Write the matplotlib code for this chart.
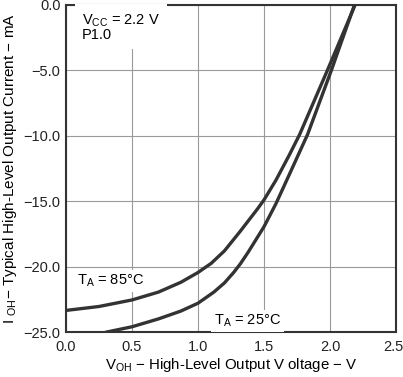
import matplotlib
matplotlib.use("Agg")
import matplotlib.pyplot as plt
import matplotlib.transforms as mtransforms

plt.rcParams['font.family'] = ['Liberation Sans', 'DejaVu Sans']
plt.rcParams['mathtext.fontset'] = 'custom'
plt.rcParams['mathtext.rm'] = 'Liberation Sans'
plt.rcParams['mathtext.it'] = 'Liberation Sans'

# T_A = 85 C curve
v_85 = [0.0, 0.25, 0.5, 0.7, 0.87, 1.0, 1.1, 1.2, 1.32, 1.45, 1.5, 1.59, 1.69, 1.77, 1.98, 2.19]
i_85 = [-23.35, -23.05, -22.55, -21.95, -21.2, -20.45, -19.75, -18.8, -17.3, -15.6, -14.9, -13.4, -11.5, -9.9, -5.0, 0.0]

# T_A = 25 C curve
v_25 = [0.31, 0.5, 0.7, 0.87, 1.0, 1.12, 1.2, 1.27, 1.32, 1.38, 1.5, 1.59, 1.69, 1.83, 2.01, 2.185]
i_25 = [-25.0, -24.6, -24.0, -23.4, -22.8, -21.95, -21.25, -20.45, -19.8, -18.9, -16.95, -15.2, -13.0, -9.9, -5.0, 0.0]

x_ticks = [0.0, 0.5, 1.0, 1.5, 2.0, 2.5]
y_ticks = [0.0, -5.0, -10.0, -15.0, -20.0, -25.0]

fig = plt.figure(figsize=(4.03, 3.77), dpi=100)
ax = fig.add_axes([66 / 403, 1 - 332 / 377, 330 / 403, 327 / 377])

ax.plot(v_85, i_85, color='#333333', lw=2.4, solid_joinstyle='round')
ax.plot(v_25, i_25, color='#333333', lw=2.4, solid_joinstyle='round')

ax.set_xlim(0, 2.5)
ax.set_ylim(-25, 0)
ax.set_xticks(x_ticks)
ax.set_yticks(y_ticks)
ax.set_xticklabels(['%.1f' % t for t in x_ticks])
ax.set_yticklabels([('%.1f' % t).replace('-', '\u2212') for t in y_ticks])
ax.tick_params(length=0, labelsize=10.5, colors='#222222')
ax.tick_params(axis='x', pad=6)
ax.tick_params(axis='y', pad=4)
ax.grid(True, color='#9a9a9a', lw=0.8)
ax.set_axisbelow(True)
for s in ax.spines.values():
    s.set_color('#333333')
    s.set_linewidth(1.5)

# keep the last x label inside the picture
last = ax.get_xticklabels()[-1]
last.set_transform(last.get_transform() + mtransforms.ScaledTranslation(-3 / 100, 0, fig.dpi_scale_trans))

box = dict(facecolor='white', edgecolor='none', pad=2)
ax.text(0.12, -0.55, 'V$_{\\mathrm{CC}}$ = 2.2 V\nP1.0', fontsize=10.5, va='top', ha='left',
        linespacing=0.95, bbox=dict(facecolor='white', edgecolor='none', pad=5))
ax.text(0.08, -21.1, 'T$_{\\mathrm{A}}$ = 85\u00b0C', fontsize=10.5, va='center', ha='left', bbox=box)
ax.text(1.12, -24.15, 'T$_{\\mathrm{A}}$ = 25\u00b0C', fontsize=10.5, va='center', ha='left', bbox=box)

ax.set_xlabel('V$_{\\mathrm{OH}}$ \u2212 High-Level Output V oltage \u2212 V', fontsize=10.8, labelpad=1)
ax.set_ylabel('I $_{\\mathrm{OH}}$\u2212 Typical High-Level Output Current \u2212 mA', fontsize=11, labelpad=3)

fig.savefig('out.png', dpi=100)
